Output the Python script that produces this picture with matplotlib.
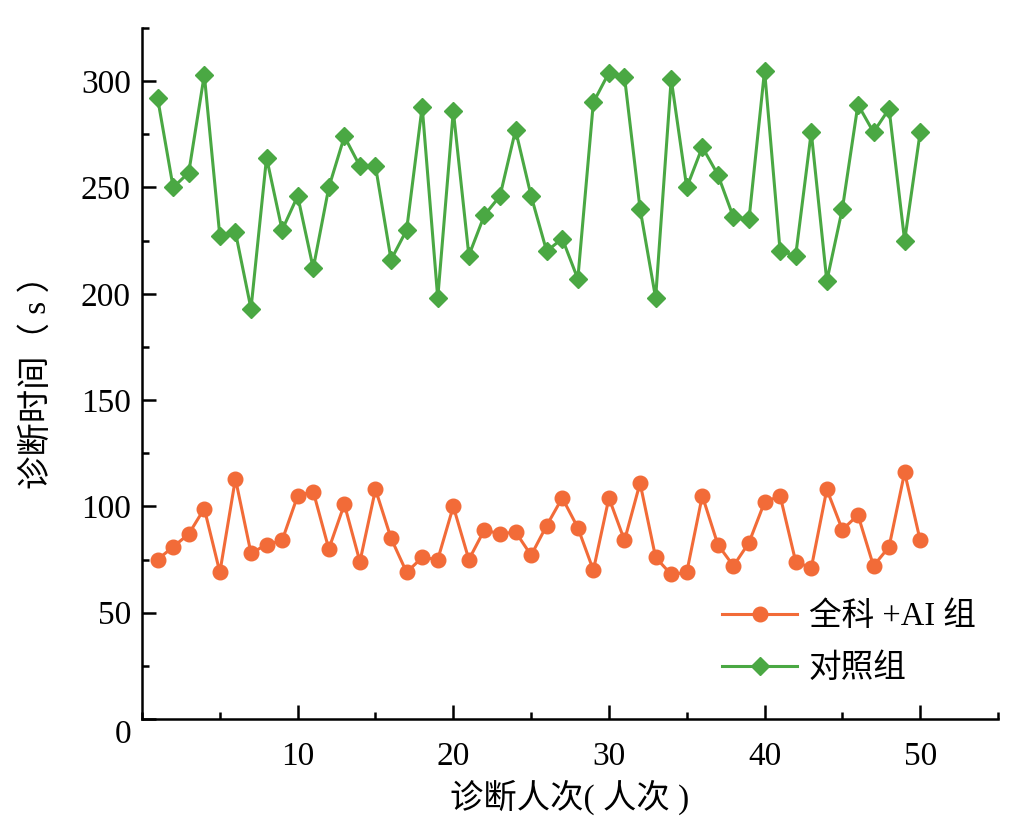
import matplotlib
matplotlib.use("Agg")
import matplotlib.pyplot as plt
from matplotlib.ticker import MultipleLocator

plt.rcParams["font.family"] = ["Liberation Serif", "Noto Sans CJK SC"]

VISITS = list(range(1, 51))

AI_GROUP = [75, 81, 87, 99, 69, 113, 78, 82, 84, 105,
            107, 80, 101, 74, 108, 85, 69, 76, 75, 100,
            75, 89, 87, 88, 77, 91, 104, 90, 70, 104,
            84, 111, 76, 68, 69, 105, 82, 72, 83, 102,
            105, 74, 71, 108, 89, 96, 72, 81, 116, 84]

CONTROL = [292, 250, 257, 303, 227, 229, 193, 264, 230, 246,
           212, 250, 274, 260, 260, 216, 230, 288, 198, 286,
           218, 237, 246, 277, 246, 220, 226, 207, 290, 304,
           302, 240, 198, 301, 250, 269, 256, 236, 235, 305,
           220, 218, 276, 206, 240, 289, 276, 287, 225, 276]

LABELS = ["全科 +AI 组", "对照组"]
ORANGE = "#F26B38"
GREEN = "#4AA843"

fig = plt.figure(figsize=(10.19, 8.26), dpi=100)
ax = fig.add_axes([0.1394, 0.1295, 0.84, 0.8366])

ax.plot(VISITS, AI_GROUP, color=ORANGE, marker="o", markersize=10.5,
        linewidth=2.2, label=LABELS[0])
ax.plot(VISITS, CONTROL, color=GREEN, marker="D", markersize=9,
        linewidth=2.2, label=LABELS[1])

ax.set_xlim(0, 55)
ax.set_ylim(0, 325)
ax.xaxis.set_major_locator(MultipleLocator(10))
ax.xaxis.set_minor_locator(MultipleLocator(5))
ax.yaxis.set_major_locator(MultipleLocator(50))
ax.yaxis.set_minor_locator(MultipleLocator(25))
ax.set_xticks([10, 20, 30, 40, 50])

for side in ("top", "right"):
    ax.spines[side].set_visible(False)
for side in ("left", "bottom"):
    ax.spines[side].set_linewidth(1.8)

ax.tick_params(which="major", direction="in", length=10, width=1.8,
               labelsize=24, pad=8)
ax.tick_params(axis="x", which="major", pad=16)
ax.tick_params(which="minor", direction="in", length=5, width=1.8)

# the origin label sits a little below the axis in the reference
for lbl in ax.get_yticklabels():
    if lbl.get_text() in ("0", "−0"):
        lbl.set_va("top")

ax.set_xlabel("诊断人次( 人次 )", fontsize=24, labelpad=6)
ax.set_ylabel("诊断时间（ s ）", fontsize=24, labelpad=20)

ax.legend(loc="lower right", bbox_to_anchor=(1.008, 0.008), frameon=False,
          fontsize=23.5, handlelength=2.3, handletextpad=0.35,
          labelspacing=0.65)

fig.savefig("out.png", dpi=100)
